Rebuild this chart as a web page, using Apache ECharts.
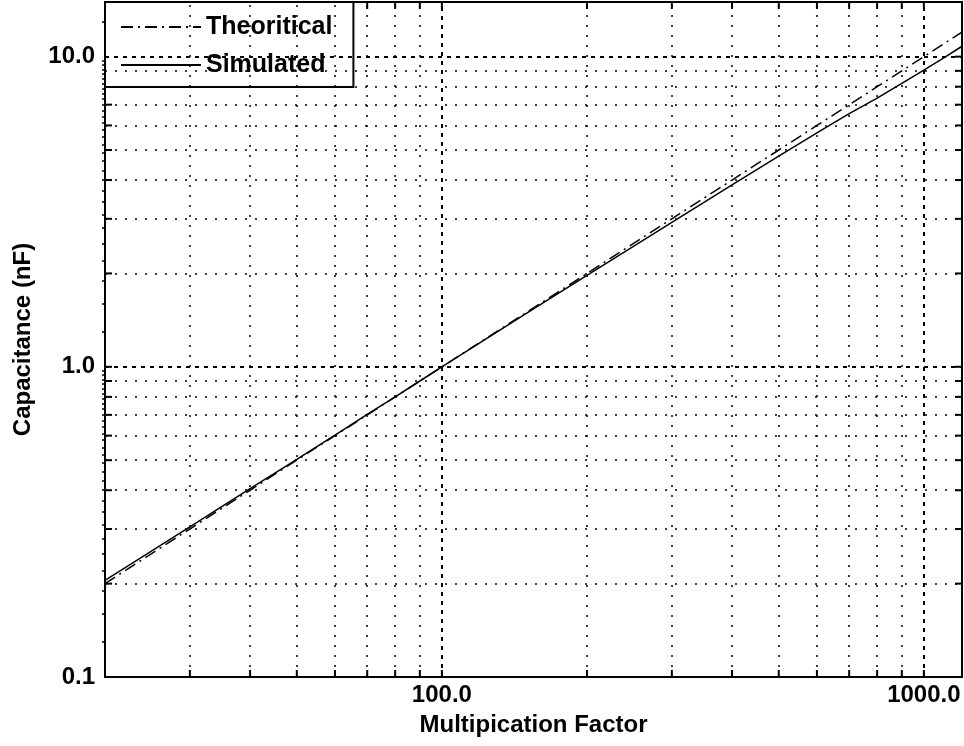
<!DOCTYPE html>
<html>
<head>
<meta charset="utf-8">
<script src="https://cdn.jsdelivr.net/npm/echarts@6/dist/echarts.min.js"></script>
<style>
  html, body { margin: 0; padding: 0; background: #fff; }
  #chart { width: 964px; height: 746px; }
</style>
</head>
<body>
<div id="chart"></div>
<script>
// values
const factors = [20, 30, 40, 50, 60, 70, 80, 90, 100, 150, 200, 300, 400, 500, 600, 700, 800, 900, 1000, 1100, 1200]
const theoritical = [0.2, 0.3, 0.4, 0.5, 0.6, 0.7, 0.8, 0.9, 1.0, 1.5, 2.0, 3.0, 4.0, 5.0, 6.0, 7.0, 8.0, 9.0, 10.0, 11.0, 12.0]
const simulated = [0.205, 0.305, 0.405, 0.503, 0.602, 0.702, 0.8, 0.9, 1.0, 1.49, 1.97, 2.92, 3.86, 4.78, 5.68, 6.55, 7.35, 8.2, 9.05, 9.9, 10.8]

// grid / tick positions
const xMinor = [30, 40, 50, 60, 70, 80, 90, 200, 300, 400, 500, 600, 700, 800, 900]
const xMajor = [100, 1000]
const yMinor = [0.2, 0.3, 0.4, 0.5, 0.6, 0.7, 0.8, 0.9, 2, 3, 4, 5, 6, 7, 8, 9]
const yMajor = [1, 10]

const FONT = 'Liberation Sans'

const chart = echarts.init(document.getElementById('chart'))

function pair(a, b) {
  return a.map((v, i) => [v, b[i]])
}

// short inward ticks on the frame, placed through the axes
function xTickItem(params, api) {
  const cs = params.coordSys
  const p = api.coord([api.value(0), 1])
  const st = { stroke: '#000', lineWidth: 2 }
  return {
    type: 'group',
    children: [
      { type: 'line', shape: { x1: p[0], y1: cs.y + cs.height, x2: p[0], y2: cs.y + cs.height - 7 }, style: st },
      { type: 'line', shape: { x1: p[0], y1: cs.y, x2: p[0], y2: cs.y + 7 }, style: st }
    ]
  }
}

function yTickItem(params, api) {
  const cs = params.coordSys
  const p = api.coord([100, api.value(1)])
  const st = { stroke: '#000', lineWidth: 2 }
  return {
    type: 'group',
    children: [
      { type: 'line', shape: { x1: cs.x, y1: p[1], x2: cs.x + 7, y2: p[1] }, style: st },
      { type: 'line', shape: { x1: cs.x + cs.width, y1: p[1], x2: cs.x + cs.width - 7, y2: p[1] }, style: st }
    ]
  }
}

const minorStyle = { color: '#000', width: 1.5, type: [2, 8] }
const majorStyle = { color: '#000', width: 2, type: [4, 5] }

const gridLines = []
xMinor.forEach(v => gridLines.push({ xAxis: v, lineStyle: minorStyle }))
xMajor.forEach(v => gridLines.push({ xAxis: v, lineStyle: majorStyle }))
yMinor.forEach(v => gridLines.push({ yAxis: v, lineStyle: minorStyle }))
yMajor.forEach(v => gridLines.push({ yAxis: v, lineStyle: majorStyle }))

const labelStyle = { color: '#000', fontFamily: FONT, fontWeight: 'bold', fontSize: 24 }

const option = {
  backgroundColor: '#fff',
  animation: false,
  grid: { left: 105, right: 2, top: 2, bottom: 69 },
  legend: {
    data: ['Theoritical', 'Simulated'],
    orient: 'vertical',
    left: 105,
    top: 2,
    padding: [11, 21, 8, 15],
    itemGap: 10,
    itemWidth: 80,
    itemHeight: 28,
    itemStyle: { color: 'rgba(0,0,0,0)', borderWidth: 0, opacity: 0 },
    backgroundColor: '#fff',
    borderColor: '#000',
    borderWidth: 2,
    borderRadius: 0,
    textStyle: { color: '#000', fontFamily: FONT, fontWeight: 'bold', fontSize: 25, lineHeight: 28 }
  },
  xAxis: [
    {
      type: 'log',
      min: 20,
      max: 1200,
      name: 'Multipication Factor',
      nameLocation: 'middle',
      nameGap: 36,
      nameTextStyle: labelStyle,
      axisLine: { lineStyle: { color: '#000', width: 2 } },
      axisTick: { show: false },
      splitLine: { show: false },
      axisLabel: {
        ...labelStyle,
        margin: 6,
        showMinLabel: false,
        showMaxLabel: false,
        formatter: v => v.toFixed(1)
      }
    },
    {
      type: 'log',
      position: 'top',
      min: 20,
      max: 1200,
      axisLine: { show: true, onZero: false, lineStyle: { color: '#000', width: 2 } },
      axisTick: { show: false },
      axisLabel: { show: false },
      splitLine: { show: false }
    }
  ],
  yAxis: [
    {
      type: 'log',
      min: 0.1,
      max: 15,
      name: 'Capacitance (nF)',
      nameLocation: 'middle',
      nameRotate: 90,
      nameGap: 70,
      nameTextStyle: labelStyle,
      axisLine: { show: true, lineStyle: { color: '#000', width: 2 } },
      axisTick: { show: false },
      minorTick: { show: true, splitNumber: 30, length: 3, lineStyle: { color: '#000', width: 1.5 } },
      splitLine: { show: false },
      minorSplitLine: { show: false },
      axisLabel: {
        ...labelStyle,
        margin: 10,
        showMaxLabel: false,
        formatter: v => (v < 1 ? String(v) : v.toFixed(1))
      }
    },
    {
      type: 'log',
      position: 'right',
      min: 0.1,
      max: 15,
      axisLine: { show: true, onZero: false, lineStyle: { color: '#000', width: 2 } },
      axisTick: { show: false },
      axisLabel: { show: false },
      splitLine: { show: false }
    }
  ],
  series: [
    {
      name: 'grid',
      type: 'custom',
      silent: true,
      renderItem: xTickItem,
      data: xMinor.concat(xMajor).map(v => [v, 1]),
      z: 1,
      markLine: {
        silent: true,
        symbol: 'none',
        label: { show: false },
        emphasis: { disabled: true },
        data: gridLines
      }
    },
    {
      name: 'yticks',
      type: 'custom',
      silent: true,
      renderItem: yTickItem,
      data: yMinor.concat(yMajor).map(v => [100, v]),
      z: 1
    },
    {
      name: 'Theoritical',
      type: 'line',
      data: pair(factors, theoritical),
      symbol: 'none',
      z: 3,
      lineStyle: { color: '#000', width: 1.5, type: [12, 5, 2, 5] },
      itemStyle: { color: '#000' }
    },
    {
      name: 'Simulated',
      type: 'line',
      data: pair(factors, simulated),
      symbol: 'none',
      z: 3,
      lineStyle: { color: '#000', width: 1.5, type: 'solid' },
      itemStyle: { color: '#000' }
    }
  ]
}

chart.setOption(option)
</script>
</body>
</html>
